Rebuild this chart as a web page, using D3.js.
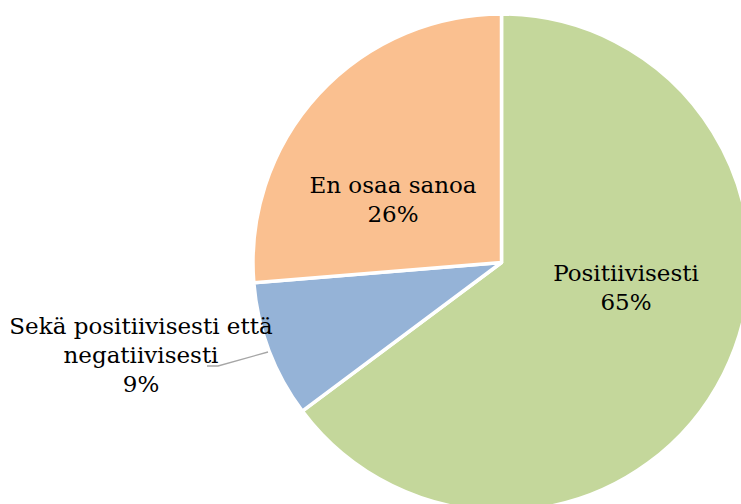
<!DOCTYPE html>
<html lang="en">
<head>
  <meta charset="UTF-8">
  <title>Pie</title>
  <script src="https://d3js.org/d3.v7.min.js"></script>
  <style>
    body { margin: 0; background: #fff; }
    text { font-family: "DejaVu Serif", serif; font-size: 23px; fill: #000; }
  </style>
</head>
<body>
  <svg id="chart" width="741" height="504"></svg>
  <script>
    const categories = ["Positiivisesti", "Sekä positiivisesti että negatiivisesti", "En osaa sanoa"];
    const values = [64.8, 8.9, 26.3];
    const colors = ["#c4d79b", "#95b3d7", "#fac090"];
    // label lines per slice
    const labelLines = [["Positiivisesti"], ["Sekä positiivisesti että", "negatiivisesti"], ["En osaa sanoa"]];
    const labelPos = [[626, 281], [141, 334], [393, 193]];

    const svg = d3.select("#chart");
    const cx = 501.5, cy = 262.5, r = 248.5;

    const pie = d3.pie().sort(null).value(d => d)(values);
    const arc = d3.arc().innerRadius(0).outerRadius(r);

    const g = svg.append("g").attr("transform", `translate(${cx},${cy})`);
    g.selectAll("path")
      .data(pie)
      .join("path")
      .attr("d", arc)
      .attr("fill", (d, i) => colors[i])
      .attr("stroke", "#fff")
      .attr("stroke-width", 3.5)
      .attr("stroke-linejoin", "round");

    // leader line for the small slice
    svg.append("polyline")
      .attr("points", "207,366 218,366 268,352")
      .attr("fill", "none")
      .attr("stroke", "#a6a6a6")
      .attr("stroke-width", 1.3);

    pie.forEach((d, i) => {
      const lines = labelLines[i].concat([Math.round(values[i]) + "%"]);
      const t = svg.append("text")
        .attr("text-anchor", "middle")
        .attr("x", labelPos[i][0])
        .attr("y", labelPos[i][1]);
      lines.forEach((s, k) => {
        t.append("tspan").attr("x", labelPos[i][0]).attr("dy", k === 0 ? 0 : 29).text(s);
      });
    });
  </script>
</body>
</html>
